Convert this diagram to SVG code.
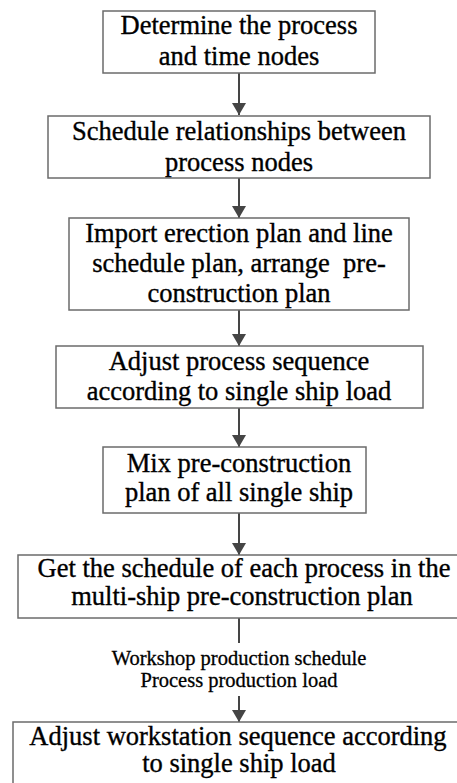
<svg xmlns="http://www.w3.org/2000/svg" width="457" height="783" viewBox="0 0 457 783">
  <style>
    .box { fill: #ffffff; stroke: #6b6b6b; stroke-width: 1.5; }
    .t { font-size: 26.5px; fill: #000; stroke: #000; stroke-width: 0.35; text-anchor: middle; }
    .lbl { font-size: 20.5px; fill: #000; stroke: #000; stroke-width: 0.3; text-anchor: middle; }
    .edge { stroke: #454545; stroke-width: 2; fill: none; }
  </style>
  <defs>
    <marker id="arrow" markerUnits="userSpaceOnUse" markerWidth="14" markerHeight="14" viewBox="0 0 14 14" refX="12" refY="7" orient="auto">
      <path d="M0,0 L12,7 L0,14 Z" fill="#454545"/>
    </marker>
  </defs>
  <rect width="457" height="783" fill="#ffffff"/>

  <g id="connectors">
    <line class="edge" x1="239" y1="73" x2="239" y2="115" marker-end="url(#arrow)"/>
    <line class="edge" x1="239" y1="178" x2="239" y2="218" marker-end="url(#arrow)"/>
    <line class="edge" x1="239" y1="310" x2="239" y2="346" marker-end="url(#arrow)"/>
    <line class="edge" x1="239" y1="408" x2="239" y2="447" marker-end="url(#arrow)"/>
    <line class="edge" x1="239" y1="513" x2="239" y2="555" marker-end="url(#arrow)"/>
    <line class="edge" x1="239" y1="618" x2="239" y2="643"/>
    <line class="edge" x1="239" y1="696" x2="239" y2="722" marker-end="url(#arrow)"/>
    <g id="edge-label" font-family="Liberation Serif">
      <text class="lbl" x="239" y="665">Workshop production schedule</text>
      <text class="lbl" x="239" y="687">Process production load</text>
    </g>
  </g>

  <g id="n1" font-family="Liberation Serif">
    <rect class="box" x="103" y="11" width="272" height="62"/>
    <text class="t" x="239" y="34">Determine the process</text>
    <text class="t" x="239" y="65">and time nodes</text>
  </g>
  <g id="n2" font-family="Liberation Serif">
    <rect class="box" x="48" y="116" width="382" height="62"/>
    <text class="t" x="239" y="140">Schedule relationships between</text>
    <text class="t" x="239" y="171">process nodes</text>
  </g>
  <g id="n3" font-family="Liberation Serif">
    <rect class="box" x="69" y="218" width="340" height="92"/>
    <text class="t" x="239" y="242">Import erection plan and line</text>
    <text class="t" x="239" y="272" xml:space="preserve">schedule plan, arrange  pre-</text>
    <text class="t" x="239" y="302">construction plan</text>
  </g>
  <g id="n4" font-family="Liberation Serif">
    <rect class="box" x="56" y="346" width="367" height="62"/>
    <text class="t" x="239" y="370">Adjust process sequence</text>
    <text class="t" x="239" y="400">according to single ship load</text>
  </g>
  <g id="n5" font-family="Liberation Serif">
    <rect class="box" x="103" y="447" width="263" height="66"/>
    <text class="t" x="239" y="472">Mix pre-construction</text>
    <text class="t" x="239" y="501">plan of all single ship</text>
  </g>
  <g id="n6" font-family="Liberation Serif">
    <rect class="box" x="18" y="555" width="450" height="63"/>
    <text class="t" x="244" y="577">Get the schedule of each process in the</text>
    <text class="t" x="242" y="605">multi-ship pre-construction plan</text>
  </g>
  <g id="n7" font-family="Liberation Serif">
    <rect class="box" x="13" y="722" width="460" height="70"/>
    <text class="t" x="238" y="745">Adjust workstation sequence according</text>
    <text class="t" x="239" y="772">to single ship load</text>
  </g>
</svg>
